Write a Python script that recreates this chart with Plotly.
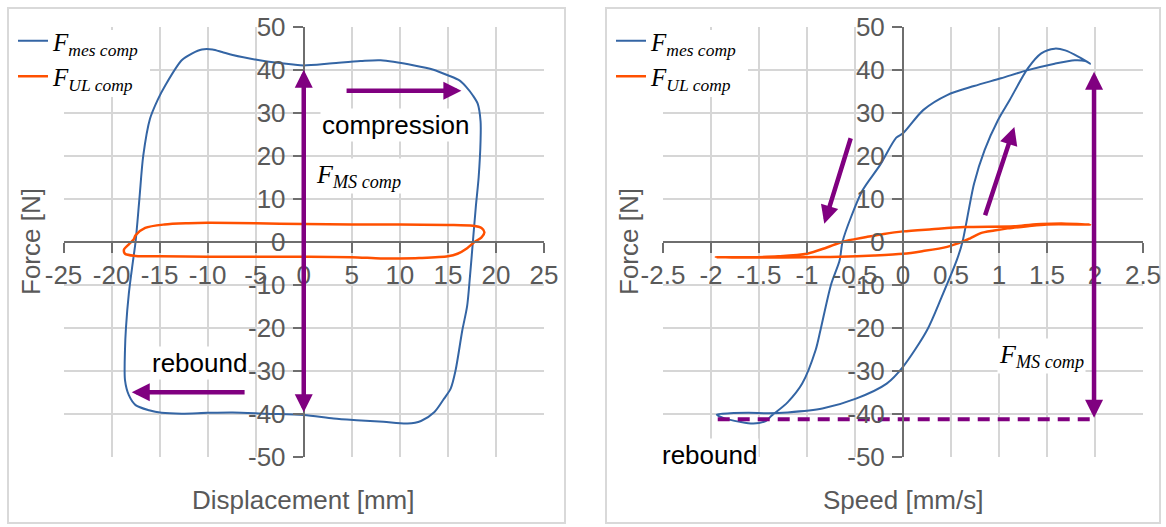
import plotly.graph_objects as go

W, H = 1166, 527

# ---------------- data ----------------
# Left panel: force vs displacement
disp_mes = [0, 3, 5.9, 8, 11.5, 13.5, 15, 16.2, 16.9, 17.6, 18.1, 18.4, 18.4, 18.2, 17.9, 17.6,
            17.3, 17.0, 16.5, 15.8, 15.3, 14.6, 13.6, 12.2, 10.8, 8.3, 5.5, 3.1, 0, -3.9, -7.4,
            -10, -12.7, -14.8, -16.1, -17.5, -18.2, -18.6, -18.6, -18.5, -18.2, -17.8, -17.5,
            -17.1, -16.7, -16, -15.2, -14.4, -12.7, -11.6, -10.6, -9.5, -8.5, -7.4, -4.6, -1.1, 0]
force_mes_disp = [41, 41.5, 42, 42.2, 41, 40, 38.7, 37.5, 36, 34, 32.1, 28, 23.6, 15, 8, 0,
                  -8, -15, -20.6, -29.9, -34.1, -36.5, -39.6, -41.7, -42.3, -41.9, -41.5, -41.1,
                  -40.3, -40, -39.7, -39.8, -40, -39.8, -39.2, -38, -35.7, -32.2, -25, -20, -12,
                  -5, 0, 10, 20, 28.6, 33, 36.4, 42.2, 43.8, 44.7, 44.7, 44.1, 43.4, 42.2, 41.2, 41]

disp_ul = [-17.5, -16.5, -14.5, -12, -10, -5, 0, 5, 10, 15, 17.6, 18.5, 18.8, 18.5, 17.8, 17,
           16, 15, 12, 10, 8, 5, 0, -5, -10, -15, -17.5, -18.6, -18.7, -18.2, -17.7, -17.5]
force_ul_disp = [1.5, 3.2, 4.0, 4.3, 4.4, 4.3, 4.1, 4.0, 4.0, 3.9, 3.7, 3.2, 2.2, 1.0, 0, -1.5,
                 -2.8, -3.4, -3.8, -3.9, -3.9, -3.6, -3.5, -3.5, -3.5, -3.4, -3.3, -2.8, -1.8,
                 -0.6, 0.5, 1.5]

# Right panel: force vs speed
speed_mes = [1.95, 1.83, 1.69, 1.58, 1.44, 1.30, 1.11, 0.99, 0.85, 0.74, 0.62, 0.56, 0.4,
             0.25, 0.0, -0.17, -0.49, -0.84, -1.2, -1.4, -1.61, -1.8, -1.94, -1.86, -1.7,
             -1.56, -1.43, -1.37, -1.2, -1.05, -0.91, -0.86, -0.75, -0.66, -0.63, -0.54, -0.42,
             -0.24, -0.07, 0.0, 0.21, 0.46, 0.74, 1.02, 1.30, 1.58, 1.79, 1.90, 1.95]
force_mes_speed = [41.4, 43, 44.5, 44.9, 43.8, 40.3, 32.9, 28.3, 21.3, 13.5, 0, -4.3, -13,
                   -20.6, -29.1, -33, -36.5, -38.8, -39.7, -39.9, -39.8, -39.9, -40.2, -41.1,
                   -41.9, -42.3, -41.7, -40.5, -37.3, -33, -25.2, -20.6, -10, -4.3, 0, 5.8, 12,
                   17.8, 24.2, 25.2, 30.6, 34.1, 36.2, 38, 39.9, 41.4, 42.2, 42, 41.4]

speed_ul = [-1.95, -1.6, -1.3, -1.0, -0.8, -0.63, -0.5, -0.38, -0.2, 0, 0.3, 0.64, 1.16, 1.44,
            1.7, 1.95, 1.5, 1.3, 1.09, 0.95, 0.81, 0.7, 0.62, 0.46, 0.2, 0, -0.3, -0.66, -1.0,
            -1.5, -1.95]
force_ul_speed = [-3.6, -3.6, -3.4, -2.8, -1.4, 0, 0.6, 1.1, 1.8, 2.4, 2.9, 3.4, 3.6, 4.1,
                  4.2, 4.0, 4.0, 3.6, 3.1, 2.6, 2.0, 0.8, 0, -1.2, -2.2, -2.8, -3.2, -3.5, -3.6,
                  -3.7, -3.6]

disp_tickvals = [-25, -20, -15, -10, -5, 0, 5, 10, 15, 20, 25]
disp_ticktext = ["-25", "-20", "-15", "-10", "-5", "0", "5", "10", "15", "20", "25"]
speed_tickvals = [-2.5, -2, -1.5, -1, -0.5, 0, 0.5, 1, 1.5, 2, 2.5]
speed_ticktext = ["-2.5", "-2", "-1.5", "-1", "-0.5", "0", "0.5", "1", "1.5", "2", "2.5"]
force_tickvals = [-50, -40, -30, -20, -10, 0, 10, 20, 30, 40, 50]
force_ticktext = ["-50", "-40", "-30", "-20", "-10", "0", "10", "20", "30", "40", "50"]

name_mes = "<i>F</i><sub><i>mes comp</i></sub>"
name_ul = "<i>F</i><sub><i>UL comp</i></sub>"
label_ms = "<i>F</i><sub><i>MS comp</i></sub>"

# annotation anchor values (data coordinates)
ms_level_disp = 40        # +/- F_MS comp in displacement plot
ms_level_speed_top = 39.5
ms_level_speed_bot = -41.3
ms_speed_x = 1.99
rebound_start_speed = -1.93

# ---------------- style ----------------
BLUE = "#3465a4"
ORANGE = "#ff5000"
PURPLE = "#800080"
GRID = "#d6d6d6"
AXIS = "#6e6e6e"
TICKFONT = "#595959"
SANS = "Liberation Sans"
SERIF = "Liberation Serif"


def px_x(p):
    return p / W


def px_y(p):
    return 1 - p / H


# plot areas in pixels
L_X0, L_X1 = 63.5, 544
R_X0, R_X1 = 663, 1143
Y0, Y1 = 26.7, 456.7

fig = go.Figure()

fig.add_trace(go.Scatter(x=disp_mes, y=force_mes_disp, mode="lines", name=name_mes,
                         line=dict(color=BLUE, width=2, shape="spline", smoothing=0.8),
                         xaxis="x", yaxis="y", legend="legend", legendgroup="a"))
fig.add_trace(go.Scatter(x=disp_ul, y=force_ul_disp, mode="lines", name=name_ul,
                         line=dict(color=ORANGE, width=2.5, shape="spline", smoothing=0.8),
                         xaxis="x", yaxis="y", legend="legend", legendgroup="b"))
fig.add_trace(go.Scatter(x=speed_mes, y=force_mes_speed, mode="lines", name=name_mes,
                         line=dict(color=BLUE, width=2, shape="spline", smoothing=0.8),
                         xaxis="x2", yaxis="y2", legend="legend2", legendgroup="c"))
fig.add_trace(go.Scatter(x=speed_ul, y=force_ul_speed, mode="lines", name=name_ul,
                         line=dict(color=ORANGE, width=2.5, shape="spline", smoothing=0.8),
                         xaxis="x2", yaxis="y2", legend="legend2", legendgroup="d"))

# dashed line at rebound F_MS level
fig.add_trace(go.Scatter(x=[rebound_start_speed, ms_speed_x],
                         y=[ms_level_speed_bot, ms_level_speed_bot], mode="lines",
                         line=dict(color=PURPLE, width=4, dash="12px,8px"),
                         showlegend=False, xaxis="x2", yaxis="y2", hoverinfo="skip"))

ax_common = dict(showgrid=True, gridcolor=GRID, gridwidth=2, zeroline=False,
                 showline=True, linecolor=AXIS, linewidth=2, ticks="outside",
                 ticklen=10, tickwidth=2, tickcolor=AXIS, automargin=False,
                 tickfont=dict(family=SANS, size=26, color=TICKFONT))

ydom = [px_y(Y1), px_y(Y0)]
ymid = (ydom[0] + ydom[1]) / 2

legend_common = dict(xanchor="left", yanchor="top", bgcolor="rgba(0,0,0,0)",
                     font=dict(family=SERIF, size=25, color="black"), tracegroupgap=0,
                     itemwidth=30)

fig.update_layout(
    width=W, height=H, margin=dict(l=0, r=0, t=0, b=0, autoexpand=False),
    paper_bgcolor="white", plot_bgcolor="white",
    xaxis=dict(domain=[px_x(L_X0), px_x(L_X1)], range=[-25, 25], anchor="free",
               position=ymid, tickvals=disp_tickvals, ticktext=disp_ticktext, **ax_common),
    yaxis=dict(domain=ydom, range=[-50, 50], anchor="free",
               position=px_x((L_X0 + L_X1) / 2), tickvals=force_tickvals,
               ticktext=force_ticktext, ticklabelstandoff=2, **ax_common),
    xaxis2=dict(domain=[px_x(R_X0), px_x(R_X1)], range=[-2.5, 2.5], anchor="free",
                position=ymid, tickvals=speed_tickvals, ticktext=speed_ticktext, **ax_common),
    yaxis2=dict(domain=ydom, range=[-50, 50], anchor="free",
                position=px_x((R_X0 + R_X1) / 2), tickvals=force_tickvals,
                ticktext=force_ticktext, ticklabelstandoff=2, **ax_common),
    legend=dict(x=px_x(13), y=px_y(18), **legend_common),
    legend2=dict(x=px_x(611), y=px_y(18), **legend_common),
    showlegend=True,
)

# panel frames and white legend backgrounds
for x0, x1 in [(8, 565), (606, 1160)]:
    fig.add_shape(type="rect", xref="paper", yref="paper", x0=px_x(x0), x1=px_x(x1),
                  y0=px_y(523), y1=px_y(8), line=dict(color="#d9d9d9", width=2),
                  fillcolor="rgba(0,0,0,0)", layer="below")
    fig.add_shape(type="rect", xref="paper", yref="paper", x0=px_x(x0 + 2), x1=px_x(x0 + 142),
                  y0=px_y(97), y1=px_y(30), line=dict(width=0), fillcolor="white",
                  layer="above")

# axis titles
title_font = dict(family=SANS, size=26, color=TICKFONT)
title_kw = dict(xref="paper", yref="paper", showarrow=False, font=title_font,
                xanchor="center", yanchor="middle")
fig.add_annotation(text="Displacement [mm]", x=px_x((L_X0 + L_X1) / 2), y=px_y(500), **title_kw)
fig.add_annotation(text="Speed [mm/s]", x=px_x((R_X0 + R_X1) / 2), y=px_y(500), **title_kw)
fig.add_annotation(text="Force [N]", textangle=-90, x=px_x(31), y=px_y(242), **title_kw)
fig.add_annotation(text="Force [N]", textangle=-90, x=px_x(629), y=px_y(242), **title_kw)

lbl_font = dict(family=SANS, size=26, color="black")
ms_font = dict(family=SERIF, size=26, color="black")
arrow_kw = dict(showarrow=True, text="", arrowhead=2, arrowsize=0.8, arrowwidth=4.5,
                arrowcolor=PURPLE, standoff=0, startstandoff=0)

# ---- left panel annotations ----
fig.add_annotation(xref="x", yref="y", axref="x", ayref="y", x=0, y=ms_level_disp,
                   ax=0, ay=-ms_level_disp, arrowside="end+start", startarrowhead=2,
                   startarrowsize=0.8, **arrow_kw)
fig.add_annotation(xref="x", yref="y", axref="x", ayref="y", x=16.4, y=35.1,
                   ax=4.3, ay=35.1, **arrow_kw)
fig.add_annotation(xref="x", yref="y", axref="x", ayref="y", x=-17.9, y=-35,
                   ax=-6.0, ay=-35, **arrow_kw)
fig.add_annotation(xref="x", yref="y", x=9.5, y=27.1, text="compression", showarrow=False,
                   font=lbl_font, bgcolor="white")
fig.add_annotation(xref="x", yref="y", x=-10.9, y=-28.3, text="rebound", showarrow=False,
                   font=lbl_font, bgcolor="white")
fig.add_annotation(xref="x", yref="y", x=5.7, y=15.2, text=label_ms, showarrow=False,
                   font=ms_font, bgcolor="white")

# ---- right panel annotations ----
fig.add_annotation(xref="x2", yref="y2", axref="x2", ayref="y2", x=ms_speed_x,
                   y=ms_level_speed_top, ax=ms_speed_x, ay=ms_level_speed_bot,
                   arrowside="end+start", startarrowhead=2, startarrowsize=0.8, **arrow_kw)
fig.add_annotation(xref="x2", yref="y2", axref="x2", ayref="y2", x=-0.82, y=4.2,
                   ax=-0.54, ay=24.4, **arrow_kw)
fig.add_annotation(xref="x2", yref="y2", axref="x2", ayref="y2", x=1.16, y=26.7,
                   ax=0.85, ay=5.8, **arrow_kw)
fig.add_annotation(xref="x2", yref="y2", x=1.78, y=50.1, text="compression",
                   showarrow=False, font=lbl_font, bgcolor="white")
fig.add_annotation(xref="x2", yref="y2", x=-2.02, y=-49.7, text="rebound",
                   showarrow=False, font=lbl_font, bgcolor="white")
fig.add_annotation(xref="x2", yref="y2", x=1.44, y=-26.6, text=label_ms, showarrow=False,
                   font=ms_font, bgcolor="white")

fig.write_html("out.html", post_script="document.body.style.margin='0';",
               config={"displayModeBar": False})
